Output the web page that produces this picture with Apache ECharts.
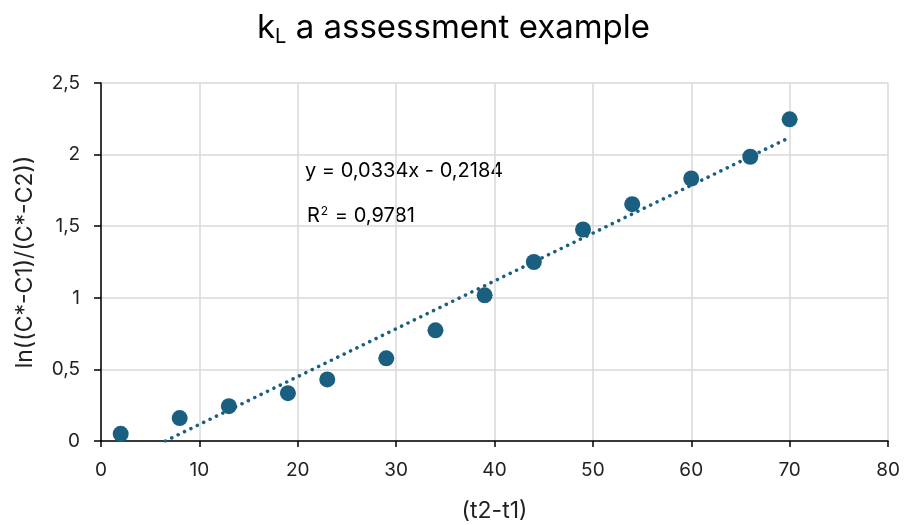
<!DOCTYPE html>
<html>
<head>
<meta charset="utf-8">
<script src="https://cdn.jsdelivr.net/npm/echarts@6/dist/echarts.min.js"></script>
<style>
html,body{margin:0;padding:0;background:#fff;}
#chart{width:907px;height:525px;}
</style>
</head>
<body>
<div id="chart"></div>
<script>
const xValues = [2, 8, 13, 19, 23, 29, 34, 39, 44, 49, 54, 60, 66, 70];
const yValues = [0.05, 0.16, 0.243, 0.334, 0.43, 0.577, 0.773, 1.017, 1.25, 1.477, 1.654, 1.833, 1.985, 2.246];
const trendCoef = [0.0334, -0.2184]; // slope, intercept
const rSquared = 0.9781;
const xTicks = [0, 10, 20, 30, 40, 50, 60, 70, 80];
const yTicks = [0, 0.5, 1, 1.5, 2, 2.5];

const FONT = 'Inter, sans-serif';
const MAIN = '#1a5e80';
const fmt = v => String(v).replace('.', ',');

const points = xValues.map((x, i) => [x, yValues[i]]);
const xStart = Math.max(Math.min(...xValues), -trendCoef[1] / trendCoef[0]);
const xEnd = Math.max(...xValues);
const trend = [xStart, xEnd].map(x => [x, trendCoef[0] * x + trendCoef[1]]);

const chart = echarts.init(document.getElementById('chart'));
chart.setOption({
  backgroundColor: '#fff',
  animation: false,
  title: {
    text: '{k|k}{sub|L}{k| a assessment example}',
    left: 'center',
    top: 4,
    textStyle: {
      fontWeight: 'normal',
      rich: {
        k: { fontFamily: FONT, fontSize: 33, fontWeight: 'normal', color: '#000' },
        sub: { fontFamily: FONT, fontSize: 20, fontWeight: 'normal', color: '#000', verticalAlign: 'bottom', padding: [18, 0, 0, 0] }
      }
    }
  },
  grid: { left: 101, right: 19, top: 83, bottom: 84, containLabel: false, outerBoundsMode: 'none' },
  xAxis: {
    type: 'value',
    min: 0, max: 80, interval: 10,
    name: '(t2-t1)',
    nameLocation: 'middle',
    nameGap: 59,
    nameTextStyle: { fontFamily: FONT, fontSize: 23, color: '#222' },
    axisLine: { onZero: false, lineStyle: { color: '#000', width: 1.5 } },
    axisTick: { show: true, length: 6, lineStyle: { color: '#000', width: 1.5 } },
    axisLabel: { fontFamily: FONT, fontSize: 19, color: '#222', margin: 20, formatter: v => fmt(v) },
    splitLine: { show: true, lineStyle: { color: '#d9d9d9', width: 1.5 } }
  },
  yAxis: {
    type: 'value',
    min: 0, max: 2.5, interval: 0.5,
    name: 'ln((C*-C1)/(C*-C2))',
    nameLocation: 'middle',
    nameGap: 64,
    nameTextStyle: { fontFamily: FONT, fontSize: 23, color: '#222' },
    axisLine: { show: true, lineStyle: { color: '#000', width: 1.5 } },
    axisTick: { show: true, length: 7, lineStyle: { color: '#000', width: 1.5 } },
    axisLabel: { fontFamily: FONT, fontSize: 19, color: '#222', margin: 21, formatter: v => fmt(v) },
    splitLine: { show: true, lineStyle: { color: '#d9d9d9', width: 1.5 } }
  },
  series: [
    {
      type: 'scatter',
      data: points,
      symbolSize: 16,
      itemStyle: { color: MAIN, opacity: 1 },
      z: 2
    },
    {
      type: 'line',
      data: trend,
      showSymbol: false,
      symbol: 'none',
      lineStyle: { color: MAIN, width: 3.5, type: [0.1, 7], cap: 'round' },
      z: 3,
      silent: true
    }
  ],
  graphic: [
    {
      type: 'text', left: 305, top: 161,
      style: { text: 'y = ' + fmt(trendCoef[0]) + 'x - ' + fmt(Math.abs(trendCoef[1])), fontFamily: FONT, fontSize: 20, fill: '#000' }
    },
    {
      type: 'text', left: 307, top: 205,
      style: {
        text: '{r|R}{s|2}{r| = ' + fmt(rSquared) + '}',
        rich: {
          r: { fontFamily: FONT, fontSize: 20, fill: '#000' },
          s: { fontFamily: FONT, fontSize: 12, fill: '#000', verticalAlign: 'top', padding: [0, 1, 10, 1] }
        }
      }
    }
  ]
});
</script>
</body>
</html>
